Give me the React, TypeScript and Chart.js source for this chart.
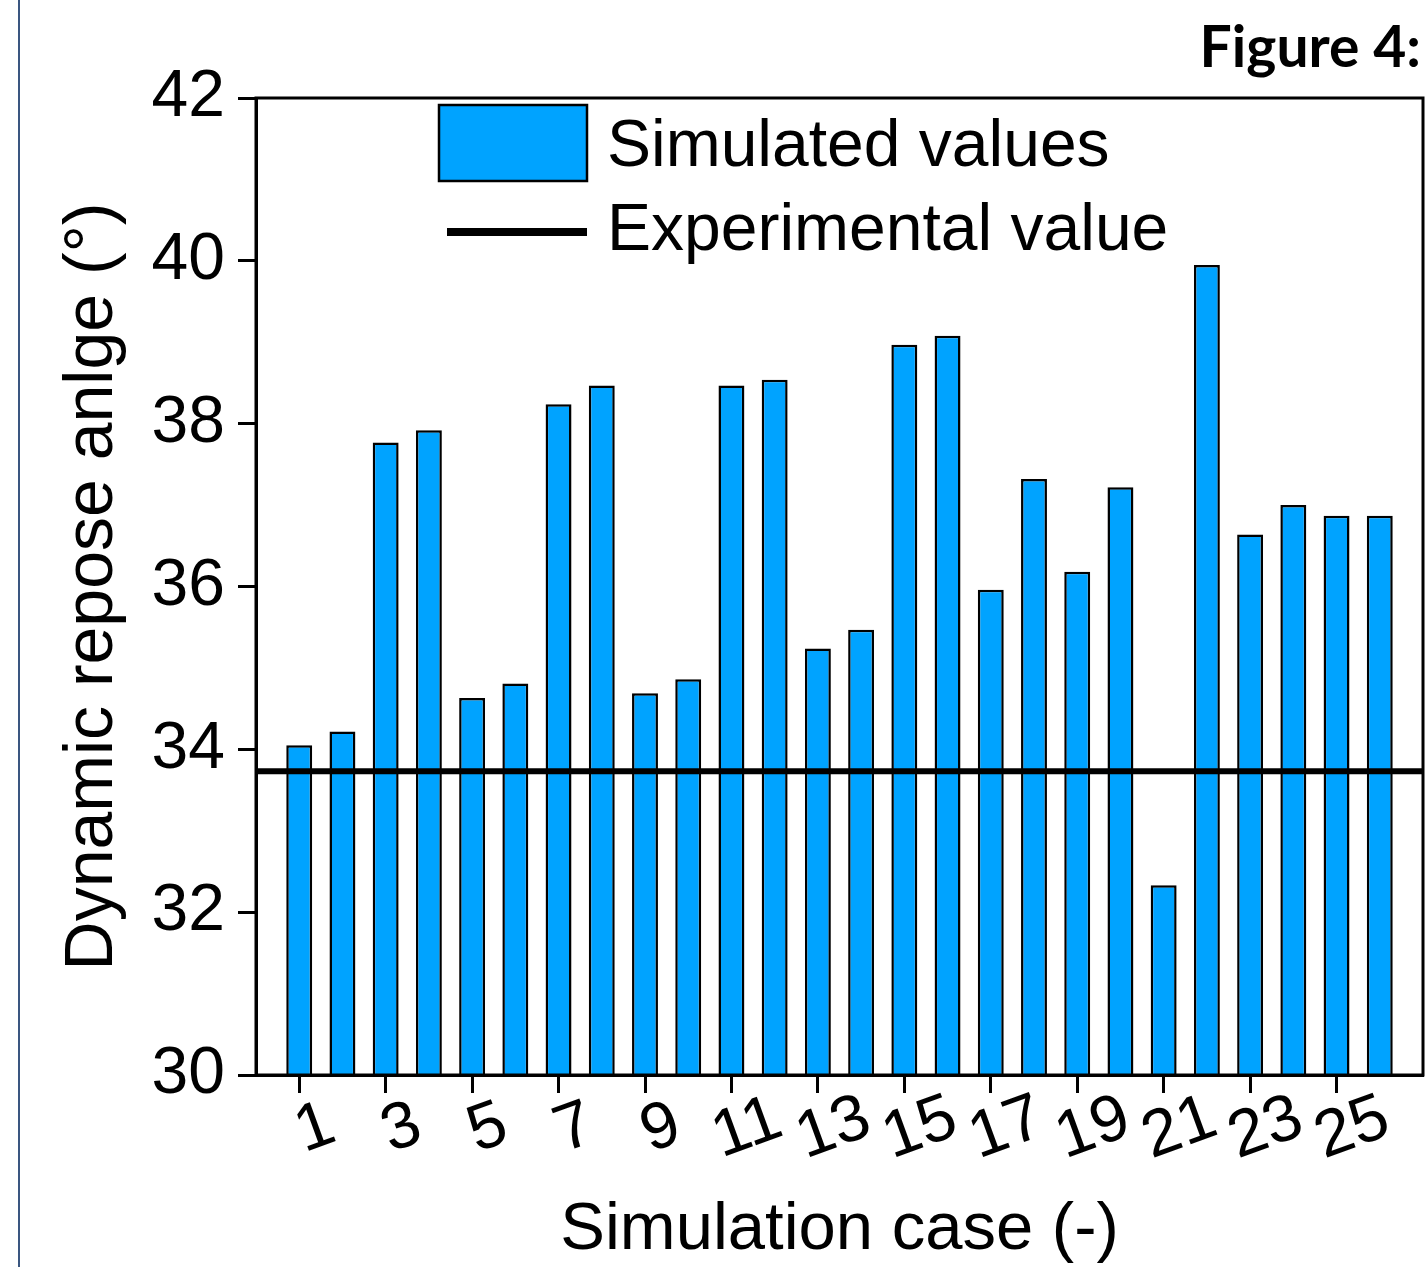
import React, { useEffect, useRef } from "react";
import { Chart, registerables } from "chart.js";

Chart.register(...registerables);

// ---------- data ----------
const caseNumbers = [1, 2, 3, 4, 5, 6, 7, 8, 9, 10, 11, 12, 13, 14, 15, 16, 17, 18, 19, 20, 21, 22, 23, 24, 25, 26];
const simulatedValues = [
  34.05, 34.22, 37.77, 37.92, 34.63, 34.81, 38.24, 38.47, 34.69, 34.86,
  38.47, 38.54, 35.24, 35.47, 38.97, 39.08, 35.96, 37.32, 36.18, 37.22,
  32.33, 39.95, 36.64, 37.0, 36.87, 36.87,
];
const experimentalValue = 33.73;
const xTickValues = [1, 3, 5, 7, 9, 11, 13, 15, 17, 19, 21, 23, 25];
const xTickLabels = ["1", "3", "5", "7", "9", "11", "13", "15", "17", "19", "21", "23", "25"];
const xMin = 0;
const xMax = 27;
const yMin = 30;
const yMax = 42;
const yStep = 2;
const seriesLabels = ["Simulated values", "Experimental value"];
const xTitle = "Simulation case (-)";
const yTitle = "Dynamic repose anlge (°)";
const figureLabel = "Figure 4:";

const BAR_COLOR = "#00A3FF";
const FONT = "'Liberation Sans', Arial, sans-serif";

const decorPlugin = {
  id: "decor",
  afterDatasetsDraw(chart: any) {
    const { ctx, chartArea: a } = chart;
    ctx.save();
    ctx.strokeStyle = "#000";
    ctx.lineWidth = 3;
    ctx.strokeRect(a.left, a.top, a.right - a.left, a.bottom - a.top);
    ctx.restore();
  },
  afterDraw(chart: any) {
    const { ctx } = chart;
    const xs = chart.scales.x;
    // rotated x tick labels
    ctx.save();
    ctx.fillStyle = "#000";
    ctx.font = `66px ${FONT}`;
    xTickValues.forEach((v, i) => {
      const px = xs.getPixelForValue(v);
      ctx.save();
      ctx.translate(px + 16, xs.top + 54);
      ctx.rotate((-20 * Math.PI) / 180);
      ctx.textAlign = "center";
      ctx.textBaseline = "middle";
      ctx.fillText(xTickLabels[i], 0, 0);
      ctx.restore();
    });
    ctx.restore();

    // legend inside plot
    const ds = chart.data.datasets;
    ctx.save();
    ctx.fillStyle = ds[0].backgroundColor;
    ctx.fillRect(439, 105, 148, 76);
    ctx.strokeStyle = "#000";
    ctx.lineWidth = 2.5;
    ctx.strokeRect(439, 105, 148, 76);
    ctx.beginPath();
    ctx.lineWidth = 8;
    ctx.moveTo(447, 232);
    ctx.lineTo(587, 232);
    ctx.stroke();
    ctx.fillStyle = "#000";
    ctx.font = `66px ${FONT}`;
    ctx.textAlign = "left";
    ctx.textBaseline = "alphabetic";
    ctx.fillText(ds[0].label, 607, 166);
    ctx.fillText(ds[1].label, 607, 250);
    ctx.restore();

    // figure label
    ctx.save();
    ctx.fillStyle = "#000";
    ctx.font = "bold 57px Lato, 'Open Sans', sans-serif";
    ctx.textAlign = "right";
    ctx.textBaseline = "alphabetic";
    ctx.fillText(figureLabel, 1421, 67);
    ctx.restore();
  },
};

export default function App() {
  const canvasRef = useRef<HTMLCanvasElement | null>(null);

  useEffect(() => {
    if (!canvasRef.current) return;
    const chart = new Chart(canvasRef.current, {
      type: "bar",
      data: {
        datasets: [
          {
            type: "bar",
            label: seriesLabels[0],
            data: caseNumbers.map((c, i) => ({ x: c, y: simulatedValues[i] })),
            backgroundColor: BAR_COLOR,
            borderColor: "#000",
            borderWidth: 2.5,
            borderSkipped: "start",
            categoryPercentage: 1,
            barPercentage: 0.6,
            order: 1,
          } as any,
          {
            type: "line",
            label: seriesLabels[1],
            data: [
              { x: xMin, y: experimentalValue },
              { x: xMax, y: experimentalValue },
            ],
            borderColor: "#000",
            borderWidth: 6,
            pointRadius: 0,
            fill: false,
            order: 0,
          } as any,
        ],
      },
      options: {
        animation: false,
        responsive: false,
        events: [],
        layout: { padding: { left: 13, top: 98, right: 4, bottom: 0 } },
        plugins: {
          legend: { display: false },
          tooltip: { enabled: false },
        },
        scales: {
          x: {
            type: "linear",
            min: xMin,
            max: xMax,
            offset: false,
            afterBuildTicks: (scale: any) => {
              scale.ticks = xTickValues.map((v) => ({ value: v }));
            },
            afterFit: (scale: any) => {
              scale.height = 192;
            },
            ticks: { display: false },
            grid: {
              display: true,
              offset: false,
              drawOnChartArea: false,
              drawTicks: true,
              tickLength: 18,
              tickWidth: 3,
              tickColor: "#000",
            },
            border: { display: true, color: "#000", width: 3 },
            title: {
              display: true,
              text: xTitle,
              color: "#000",
              font: { family: FONT, size: 67 },
              padding: { top: 0, bottom: -4 },
            },
          },
          y: {
            type: "linear",
            min: yMin,
            max: yMax,
            afterFit: (scale: any) => {
              scale.width = 243;
            },
            ticks: {
              stepSize: yStep,
              color: "#000",
              font: { family: FONT, size: 66 },
              padding: 13,
            },
            grid: {
              display: true,
              drawOnChartArea: false,
              drawTicks: true,
              tickLength: 18,
              tickWidth: 3,
              tickColor: "#000",
            },
            border: { display: true, color: "#000", width: 3 },
            title: {
              display: true,
              text: yTitle,
              color: "#000",
              font: { family: FONT, size: 68 },
              padding: { top: 39, bottom: 0 },
            },
          },
        },
      },
      plugins: [decorPlugin],
    });
    return () => chart.destroy();
  }, []);

  return (
    <div style={{ position: "absolute", left: 0, top: 0, width: 1427, height: 1267, background: "#fff" }}>
      <div style={{ position: "absolute", left: 18, top: 0, width: 2, height: 1267, background: "#3a5680" }} />
      <canvas ref={canvasRef} width={1427} height={1267} style={{ display: "block", width: 1427, height: 1267 }} />
    </div>
  );
}
